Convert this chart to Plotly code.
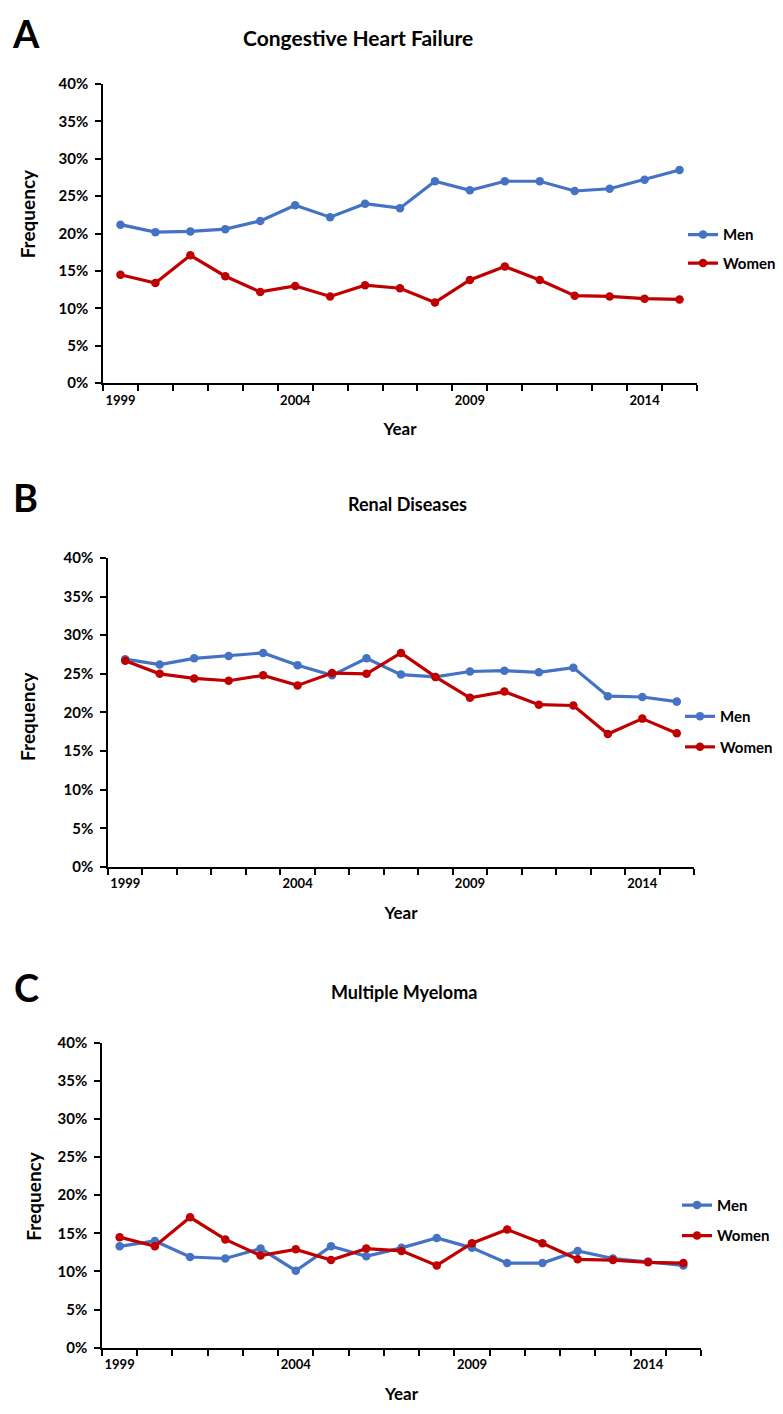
import plotly.graph_objects as go

years = list(range(1999, 2016))
year_labels = ["1999", "2004", "2009", "2014"]
year_label_vals = [1999, 2004, 2009, 2014]

chf_men = [21.2, 20.2, 20.3, 20.6, 21.7, 23.8, 22.2, 24.0, 23.4, 27.0, 25.8, 27.0, 27.0, 25.7, 26.0, 27.2, 28.5]
chf_women = [14.5, 13.4, 17.1, 14.3, 12.2, 13.0, 11.6, 13.1, 12.7, 10.8, 13.8, 15.6, 13.8, 11.7, 11.6, 11.3, 11.2]

renal_men = [26.9, 26.2, 27.0, 27.3, 27.7, 26.1, 24.8, 27.0, 24.9, 24.6, 25.3, 25.4, 25.2, 25.8, 22.1, 22.0, 21.4]
renal_women = [26.7, 25.0, 24.4, 24.1, 24.8, 23.5, 25.1, 25.0, 27.7, 24.6, 21.9, 22.7, 21.0, 20.9, 17.2, 19.2, 17.3]

mm_men = [13.3, 14.0, 11.9, 11.7, 13.0, 10.1, 13.3, 12.0, 13.1, 14.4, 13.1, 11.1, 11.1, 12.7, 11.7, 11.3, 10.8]
mm_women = [14.5, 13.3, 17.1, 14.2, 12.1, 12.9, 11.5, 13.0, 12.7, 10.8, 13.7, 15.5, 13.7, 11.6, 11.5, 11.2, 11.1]

panels = [
    ("A", "Congestive Heart Failure", chf_men, chf_women),
    ("B", "Renal Diseases", renal_men, renal_women),
    ("C", "Multiple Myeloma", mm_men, mm_women),
]

W, H = 783, 1414
# pixel boxes for each panel: (x0, x1, ytop(40%), ybottom(0%))
boxes = [(103, 697, 75, 378), (108, 694, 555, 868), (102, 701, 1046, 1355)]
legend_pos = [(683, 211), (680, 699), (677, 1194)]
letter_pos = [(26, 23), (25, 493), (26, 990)]
title_pos = [(358, 28), (408, 500), (404, 995)]
title_size = [21, 18, 18]
freq_pos = [(27, 207), (28, 716), (34, 1202)]

BLUE = "#4472C4"
RED = "#C00000"
FONT = "Lato"

fig = go.Figure()
annotations = []
for i, (letter, title, men, women) in enumerate(panels):
    n = "" if i == 0 else str(i + 1)
    leg = "legend" if i == 0 else f"legend{i+1}"
    for name, vals, col in (("Men", men, BLUE), ("Women", women, RED)):
        fig.add_trace(go.Scatter(
            x=years, y=[v / 100 for v in vals], name=name, mode="lines+markers",
            line=dict(color=col, width=3.2), marker=dict(color=col, size=8.5),
            xaxis="x" + n, yaxis="y" + n, legend=leg, legendgroup=f"{leg}{name}",
        ))
    x0, x1, yt, yb = boxes[i]
    axis_common = dict(showline=True, linecolor="black", linewidth=1.5, showgrid=False, zeroline=False)
    fig.layout["xaxis" + n] = dict(
        domain=[x0 / W, x1 / W], anchor="y" + n, range=[1998.5, 2015.5],
        tickmode="array", tickvals=year_label_vals, ticktext=year_labels, ticks="",
        ticklabelstandoff=4,
        tickfont=dict(family=FONT, size=13, color="black", weight="bold"),
        minor=dict(ticks="outside", ticklen=6, tickcolor="black", tickwidth=1.5, tick0=1998.5, dtick=1),
        title=dict(text="<b>Year</b>", font=dict(family=FONT, size=17, color="black"), standoff=17),
        **axis_common,
    )
    fig.layout["yaxis" + n] = dict(
        domain=[1 - yb / H, 1 - yt / H], anchor="x" + n, range=[0, 0.40],
        tickmode="linear", tick0=0, dtick=0.05, tickformat=".0%",
        ticks="outside", ticklen=6, tickcolor="black", tickwidth=1.5,
        ticklabelstandoff=4,
        tickfont=dict(family=FONT, size=15, color="black", weight="bold"),
        **axis_common,
    )
    lx, ly = legend_pos[i]
    fig.layout[leg] = dict(
        x=lx / W, y=1 - ly / H, xanchor="left", yanchor="top",
        font=dict(family=FONT, size=15, color="black", weight="bold"),
        bgcolor="rgba(0,0,0,0)", traceorder="grouped",
        tracegroupgap=6 if i == 0 else 8,
    )
    annotations.append(dict(text=f"<b>{letter}</b>", x=letter_pos[i][0] / W, y=1 - letter_pos[i][1] / H,
                            xref="paper", yref="paper", showarrow=False,
                            xanchor="center", yanchor="middle",
                            font=dict(family=FONT, size=38, color="black")))
    annotations.append(dict(text=f"<b>{title}</b>", x=title_pos[i][0] / W, y=1 - title_pos[i][1] / H,
                            xref="paper", yref="paper", showarrow=False,
                            xanchor="center", yanchor="middle",
                            font=dict(family=FONT, size=title_size[i], color="black")))
    annotations.append(dict(text="<b>Frequency</b>", x=freq_pos[i][0] / W, y=1 - freq_pos[i][1] / H,
                            xref="paper", yref="paper", showarrow=False, textangle=-90,
                            xanchor="center", yanchor="middle",
                            font=dict(family=FONT, size=19, color="black")))

fig.update_layout(
    width=W, height=H, autosize=False,
    margin=dict(l=0, r=0, t=0, b=0),
    paper_bgcolor="white", plot_bgcolor="white",
    annotations=annotations, showlegend=True,
)
fig.write_html("out.html")
